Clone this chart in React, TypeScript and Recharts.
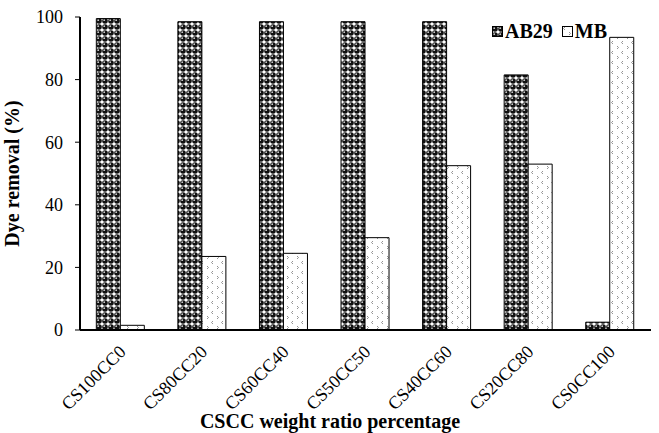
import { BarChart, Bar, XAxis, YAxis } from "recharts";

const categories = ["CS100CC0", "CS80CC20", "CS60CC40", "CS50CC50", "CS40CC60", "CS20CC80", "CS0CC100"];
const ab29 = [99.5, 98.5, 98.5, 98.5, 98.5, 81.5, 2.5];
const mb = [1.5, 23.5, 24.5, 29.5, 52.5, 53, 93.5];
const yTicks = [0, 20, 40, 60, 80, 100];

const data = categories.map((name, i) => ({ name, AB29: ab29[i], MB: mb[i] }));

const FONT = "'Liberation Serif', 'DejaVu Serif', serif";

function Patterns({ prefix }: { prefix: string }) {
  return (
    <defs>
      <pattern id={`${prefix}-ab`} width="6" height="6" patternUnits="userSpaceOnUse">
        <rect width="6" height="6" fill="#fff" />
        <circle cx="3" cy="3" r="2.8" fill="#111" />
        <circle cx="2.2" cy="2.2" r="0.9" fill="#ccc" />
      </pattern>
      <pattern id={`${prefix}-mb`} width="10" height="10" patternUnits="userSpaceOnUse">
        <rect width="10" height="10" fill="#fff" />
        <path d="M3 1 L1.5 2.5 L3 4" stroke="#777" strokeWidth="0.8" fill="none" />
        <path d="M7 6 L8.5 7.5 L7 9" stroke="#777" strokeWidth="0.8" fill="none" />
      </pattern>
    </defs>
  );
}

function XTick({ x, y, payload }: any) {
  return (
    <g transform={`translate(${x + 6},${y + 15})`}>
      <text x={0} y={0} transform="rotate(-45)" textAnchor="end" fontFamily={FONT} fontSize={18} fill="#000">
        {payload.value}
      </text>
    </g>
  );
}

function LegendBox() {
  const items = [
    { key: "AB29", fill: "lg-ab" },
    { key: "MB", fill: "lg-mb" },
  ];
  return (
    <div
      style={{
        position: "absolute",
        left: 492,
        top: 20,
        display: "flex",
        alignItems: "center",
        fontFamily: FONT,
        fontWeight: "bold",
        fontSize: 20,
      }}
    >
      {items.map((it) => (
        <span key={it.key} style={{ display: "flex", alignItems: "center", marginRight: 9 }}>
          <svg width="11" height="11" style={{ marginRight: 2 }}>
            <Patterns prefix="lg" />
            <rect x="0.5" y="0.5" width="10" height="10" fill={`url(#${it.fill})`} stroke="#000" />
          </svg>
          {it.key}
        </span>
      ))}
    </div>
  );
}

export default function App() {
  return (
    <div style={{ position: "fixed", left: 0, top: 0, width: 659, height: 433, background: "#fff" }}>
      <BarChart
        width={659}
        height={433}
        data={data}
        margin={{ top: 17, right: 8, left: 0, bottom: 0 }}
        barCategoryGap="20%"
        barGap={0}
      >
        <Patterns prefix="ch" />
        <XAxis
          dataKey="name"
          height={103}
          tickLine={false}
          axisLine={{ stroke: "#000", strokeWidth: 2 }}
          tick={<XTick />}
          interval={0}
        />
        <XAxis xAxisId="top" orientation="top" dataKey="name" height={0} tick={false} tickLine={false} axisLine={{ stroke: "#000", strokeWidth: 1.5 }} />
        <YAxis
          width={80}
          domain={[0, 100]}
          ticks={yTicks}
          tickSize={5}
          tickLine={{ stroke: "#000", strokeWidth: 1 }}
          axisLine={{ stroke: "#000", strokeWidth: 2 }}
          tick={{ fontFamily: FONT, fontSize: 18, fill: "#000" }}
          tickMargin={12}
          label={{
            value: "Dye removal (%)",
            angle: -90,
            position: "insideLeft",
            offset: 12,
            style: { fontFamily: FONT, fontWeight: "bold", fontSize: 20, fill: "#000", textAnchor: "middle" },
          }}
        />
        <YAxis yAxisId="right" orientation="right" width={0} domain={[0, 100]} tick={false} tickLine={false} axisLine={{ stroke: "#000", strokeWidth: 1.5 }} />
        <Bar dataKey="AB29" fill="url(#ch-ab)" stroke="#000" strokeWidth={1} isAnimationActive={false} />
        <Bar dataKey="MB" fill="url(#ch-mb)" stroke="#000" strokeWidth={1} isAnimationActive={false} />
        <text x={330} y={428} textAnchor="middle" fontFamily={FONT} fontWeight="bold" fontSize={20} fill="#000">
          CSCC weight ratio percentage
        </text>
      </BarChart>
      <LegendBox />
    </div>
  );
}
